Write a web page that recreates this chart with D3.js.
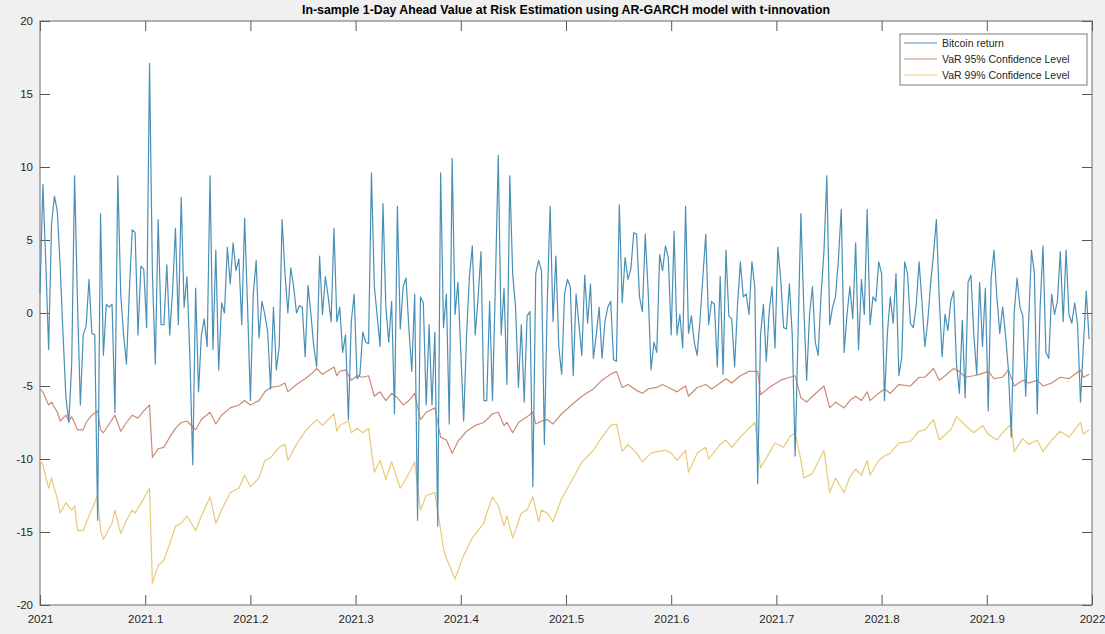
<!DOCTYPE html>
<html>
<head>
<meta charset="utf-8">
<script src="https://cdn.jsdelivr.net/npm/d3@7"></script>
<style>
  body { margin: 0; background: #f0f0f0; }
  svg { display: block; font-family: "Liberation Sans", Arial, sans-serif; }
</style>
</head>
<body>
<svg id="chart" width="1105" height="634"></svg>
<script>
// daily bitcoin returns (%), day 0 = 2021-01-01
const returns = [
  1.3, 8.8, 3.5, -2.5, 6.1, 8.0, 7.0, 3.2, -1.5, -5.8,
  -7.5, -3.5, 9.4, 0.8, -6.3, -1.5, -0.9, 2.3, -1.4, -1.5,
  -14.2, 6.8, -2.9, 0.6, 0.4, 0.6, -6.8, 9.4, 1.3, -1.5,
  -3.5, 1.5, 5.7, 5.5, -1.5, 3.2, 3.0, -1.0, 17.1, 2.7,
  -3.5, 6.4, -0.8, -0.8, 3.3, -1.5, 1.5, 5.8, -0.8, 7.9,
  0.4, 2.5, -3.0, -10.4, 1.7, -5.4, -1.5, -0.4, -2.3, 9.4,
  -2.5, 4.3, -3.9, 0.7, 0.0, 4.5, 2.0, 4.8, 2.9, 3.7,
  -0.8, 6.5, 0.5, -6.0, 1.3, 3.6, -1.7, 0.8, -0.1, -1.3,
  -5.2, 0.4, -3.9, -2.3, 6.4, 2.7, 0.0, 3.1, 1.8, 0.0,
  0.5, 0.4, -3.0, 1.9, -0.1, -2.3, -3.7, 3.9, -0.1, 2.5,
  1.1, -0.6, 5.8, -0.6, 0.4, -2.7, -1.5, -7.3, -0.6, 1.3,
  -4.5, -4.2, -1.3, -2.0, -2.1, 9.6, 1.8, -0.2, -2.3, 7.5,
  0.4, -2.0, 0.8, -6.9, 7.3, -1.1, 1.8, 2.4, -1.1, -4.0,
  1.3, -14.2, 1.1, 0.7, -6.3, -0.8, -6.3, -1.3, -14.6, 9.6,
  -1.0, 1.3, -7.6, 10.6, -0.1, 2.1, -2.7, -7.4, -1.5, 2.5,
  4.6, -1.5, 1.0, 4.2, -6.0, -6.0, 0.8, -6.0, 2.0, 10.8,
  -1.5, 1.7, -4.9, 9.4, 2.7, 0.4, -5.1, -0.8, -6.1, -0.2,
  0.1, -11.9, 2.7, 3.6, 2.9, -9.0, 0.8, 7.3, -0.6, 3.9,
  -2.3, -4.2, 1.3, 2.3, 1.8, -4.3, 1.3, -0.8, -2.9, 2.6,
  -0.7, 2.0, -3.1, -1.5, 0.4, -3.1, -0.6, 0.4, 0.8, -3.2,
  -3.3, 7.4, 0.7, 3.8, 2.3, 3.0, 5.5, 5.4, 1.1, 0.1,
  5.4, 1.5, -3.9, -2.0, -2.7, 4.0, 2.9, 4.6, 3.8, -1.5,
  5.6, -1.5, -0.1, -2.4, 7.3, -1.4, -0.2, -2.0, -2.9, -0.5,
  2.5, 5.4, -0.8, 0.8, 0.6, -3.7, 2.5, -4.2, 4.3, -0.2,
  -0.4, -3.7, 0.5, 3.5, 1.1, 1.3, -0.1, 3.5, 1.8, -11.7,
  -1.5, 0.6, -3.3, 0.1, 1.8, -2.4, 4.5, 2.3, -1.0, -1.1,
  2.0, -1.5, -9.8, -1.5, 6.8, 0.4, -4.6, -0.1, 1.8, -2.0,
  -2.9, 1.3, 4.2, 9.4, -0.8, 0.4, 1.1, 3.6, 7.1, -2.7,
  -0.1, 1.8, -0.4, 4.8, -2.5, 2.3, -0.1, 7.1, -0.8, 1.1,
  0.8, 3.5, 2.7, -6.0, -1.4, 1.1, -0.7, 2.7, -4.3, -3.0,
  3.5, 2.7, -0.7, -1.0, 0.5, 3.5, 0.8, -2.3, -0.6, 2.0,
  4.0, 6.4, 1.0, -3.0, -0.1, -1.2, 0.8, 1.5, -3.5, -5.5,
  -0.5, -5.8, 2.1, 2.6, -1.5, -4.2, 2.1, -2.3, 1.7, -6.7,
  2.4, 4.3, 1.1, -1.4, 0.4, -1.5, -3.9, -8.5, 0.0, 2.4,
  0.4, -0.2, -5.7, -0.7, 4.3, 2.7, -6.9, 0.4, 4.6, -2.7,
  -3.1, 1.3, -0.1, 0.8, 4.2, -0.6, 4.3, -0.1, -0.7, 0.7,
  -0.8, -6.1, -2.3, 1.5, -1.8
];

const var95Days = [0, 1, 3, 4, 6, 7, 9, 10, 11, 13, 15, 16, 18, 20, 21, 22, 24, 26, 28, 30,
  32, 34, 36, 38, 39, 41, 43, 45, 47, 49, 51, 54, 56, 59, 61, 63, 66, 69, 71, 73,
  76, 78, 80, 83, 85, 86, 89, 92, 94, 96, 98, 102, 103, 104, 106, 108, 110, 112, 114, 116,
  118, 120, 122, 124, 126, 128, 130, 132, 134, 137, 139, 141, 143, 145, 148, 151, 154, 155, 157, 159,
  161, 162, 164, 166, 169, 171, 172, 174, 176, 178, 181, 185, 188, 192, 195, 198, 200, 202, 204, 207,
  209, 211, 214, 216, 218, 221, 224, 225, 228, 231, 233, 236, 238, 240, 243, 246, 249, 250, 253, 257,
  260, 262, 264, 266, 268, 272, 274, 276, 279, 281, 283, 285, 287, 288, 291, 293, 295, 298, 302, 305,
  307, 310, 312, 314, 317, 319, 321, 324, 326, 329, 331, 334, 336, 338, 341, 343, 346, 348, 351, 354,
  357, 359, 361, 362, 364];
const var95 = [-5.2, -5.4, -6.3, -6.1, -6.8, -7.4, -7.0, -7.4, -7.1, -8.0, -8.0, -7.5, -7.0, -6.7, -8.0, -8.2, -7.6, -7.0, -8.1, -7.5,
  -7.0, -7.2, -6.7, -6.3, -9.9, -9.3, -9.2, -8.5, -7.9, -7.5, -7.4, -8.0, -7.3, -6.8, -7.6, -7.0, -6.5, -6.3, -6.0, -6.3,
  -6.0, -5.4, -5.1, -5.0, -4.8, -5.4, -4.9, -4.5, -4.2, -3.8, -4.2, -3.7, -4.3, -4.0, -3.9, -4.6, -4.3, -4.4, -4.3, -5.7,
  -5.4, -6.0, -5.5, -5.8, -6.3, -6.0, -5.5, -7.3, -6.8, -6.5, -8.5, -8.7, -9.6, -8.8, -8.1, -7.7, -7.5, -7.3, -6.9, -6.8,
  -7.7, -7.5, -8.2, -7.5, -7.1, -6.8, -7.6, -7.4, -7.3, -7.6, -6.9, -6.2, -5.7, -5.2, -4.6, -4.2, -4.0, -5.1, -4.9, -5.3,
  -5.5, -5.2, -5.1, -4.9, -5.1, -5.4, -5.0, -5.7, -5.1, -4.9, -5.2, -4.8, -4.5, -4.8, -4.3, -4.0, -4.0, -5.6, -5.1, -4.6,
  -4.4, -4.3, -5.8, -6.1, -5.7, -5.0, -6.5, -6.1, -6.5, -6.0, -5.7, -6.0, -5.4, -6.0, -5.5, -5.2, -5.5, -4.9, -5.0, -4.4,
  -4.4, -3.8, -4.6, -4.3, -3.8, -4.0, -4.4, -4.3, -4.2, -4.0, -4.5, -4.4, -3.9, -5.0, -4.6, -4.8, -4.6, -5.0, -4.8, -4.4,
  -4.5, -4.2, -3.9, -4.4, -4.2];

const var99Days = [0, 1, 3, 4, 6, 7, 9, 11, 12, 13, 15, 17, 20, 21, 22, 25, 26, 28, 30, 32,
  33, 36, 38, 39, 41, 43, 45, 47, 49, 51, 54, 56, 59, 61, 63, 66, 69, 71, 73, 76,
  78, 80, 83, 85, 86, 89, 92, 94, 96, 98, 102, 103, 104, 107, 108, 110, 112, 114, 116, 118,
  120, 122, 125, 128, 130, 132, 134, 137, 140, 141, 144, 147, 150, 154, 155, 157, 159, 161, 162, 164,
  167, 169, 171, 173, 174, 176, 178, 181, 185, 188, 192, 195, 198, 200, 202, 204, 207, 209, 212, 214,
  217, 219, 221, 224, 225, 228, 231, 232, 236, 238, 240, 243, 246, 248, 250, 253, 255, 258, 260, 262,
  264, 265, 268, 272, 274, 276, 279, 281, 283, 285, 287, 288, 291, 293, 295, 298, 302, 305, 307, 310,
  312, 316, 318, 321, 324, 327, 329, 332, 334, 337, 338, 341, 343, 346, 348, 351, 354, 357, 359, 361,
  362, 364];
const var99 = [-10.1, -10.4, -12.0, -11.3, -12.7, -13.7, -13.0, -13.5, -13.2, -14.9, -14.9, -13.9, -12.5, -14.9, -15.5, -14.4, -13.5, -15.1, -14.2, -13.5,
  -13.7, -12.7, -12.0, -18.5, -17.3, -16.9, -15.8, -14.6, -14.4, -13.9, -14.9, -13.9, -12.6, -14.4, -13.5, -12.3, -12.0, -11.1, -11.9, -11.3,
  -10.1, -9.9, -9.2, -9.0, -10.1, -9.0, -8.1, -7.7, -7.3, -7.7, -6.9, -8.1, -7.7, -7.4, -8.2, -7.9, -8.2, -7.9, -10.9, -10.1,
  -11.4, -10.2, -12.0, -11.0, -10.2, -13.5, -12.5, -12.3, -16.1, -16.8, -18.2, -16.6, -15.4, -14.4, -13.7, -12.6, -13.2, -14.6, -13.9, -15.4,
  -13.7, -13.5, -12.6, -14.3, -13.5, -13.7, -14.3, -12.7, -11.3, -10.2, -9.4, -8.5, -7.7, -7.6, -9.5, -9.0, -9.6, -10.2, -9.6, -9.5,
  -9.4, -9.6, -10.1, -9.4, -10.9, -9.6, -9.2, -10.0, -9.0, -8.7, -9.2, -8.5, -7.9, -7.5, -10.6, -9.6, -8.9, -9.2, -8.5, -8.2,
  -10.1, -11.3, -11.0, -9.4, -12.3, -11.3, -12.3, -11.2, -10.7, -11.1, -10.1, -11.1, -10.1, -9.8, -9.6, -8.9, -8.8, -8.1, -8.0, -7.3,
  -8.7, -8.0, -7.1, -7.7, -8.2, -7.7, -8.3, -8.7, -8.2, -7.6, -9.5, -8.6, -9.0, -8.7, -9.5, -8.7, -8.1, -8.5, -8.0, -7.5,
  -8.3, -8.0];

const xTicks = [2021, 2021.1, 2021.2, 2021.3, 2021.4, 2021.5, 2021.6, 2021.7, 2021.8, 2021.9, 2022];
const xTickLabels = ["2021", "2021.1", "2021.2", "2021.3", "2021.4", "2021.5", "2021.6", "2021.7", "2021.8", "2021.9", "2022"];
const yTicks = [-20, -15, -10, -5, 0, 5, 10, 15, 20];
const yTickLabels = ["-20", "-15", "-10", "-5", "0", "5", "10", "15", "20"];
const seriesNames = ["Bitcoin return", "VaR 95% Confidence Level", "VaR 99% Confidence Level"];
const seriesColors = ["#4a8fb6", "#cc8b73", "#e8c978"];

const svg = d3.select("#chart");
const plotLeft = 40, plotRight = 1092, plotTop = 21, plotBottom = 605;
const tick = 10;

const x = d3.scaleLinear().domain([2021, 2022]).range([plotLeft, plotRight]);
const y = d3.scaleLinear().domain([-20, 20]).range([plotBottom, plotTop]);
const dayToYear = d => 2021 + d / 365;

svg.append("rect")
  .attr("x", plotLeft).attr("y", plotTop)
  .attr("width", plotRight - plotLeft).attr("height", plotBottom - plotTop)
  .attr("fill", "#fff");

// axes, ticks pointing inward on all four sides
const styleAxis = g => {
  g.select(".domain").remove();
  g.selectAll(".tick line").attr("stroke", "#555");
  g.selectAll(".tick text").attr("fill", "#262626").style("font-size", "11.5px");
};

svg.append("g")
  .attr("transform", `translate(0,${plotBottom})`)
  .call(d3.axisBottom(x).tickValues(xTicks).tickSizeInner(-tick).tickSizeOuter(0).tickPadding(10)
    .tickFormat((d, i) => xTickLabels[i]))
  .call(styleAxis);

svg.append("g")
  .attr("transform", `translate(0,${plotTop})`)
  .call(d3.axisTop(x).tickValues(xTicks).tickSizeInner(-tick).tickSizeOuter(0).tickFormat(""))
  .call(styleAxis);

svg.append("g")
  .attr("transform", `translate(${plotLeft},0)`)
  .call(d3.axisLeft(y).tickValues(yTicks).tickSizeInner(-tick).tickSizeOuter(0).tickPadding(7)
    .tickFormat((d, i) => yTickLabels[i]))
  .call(styleAxis);

svg.append("g")
  .attr("transform", `translate(${plotRight},0)`)
  .call(d3.axisRight(y).tickValues(yTicks).tickSizeInner(-tick).tickSizeOuter(0).tickFormat(""))
  .call(styleAxis);

svg.append("rect")
  .attr("x", plotLeft).attr("y", plotTop)
  .attr("width", plotRight - plotLeft).attr("height", plotBottom - plotTop)
  .attr("fill", "none").attr("stroke", "#6b6b6b").attr("stroke-width", 1);

const line = d3.line().x(d => x(dayToYear(d[0]))).y(d => y(d[1]));

const series = [
  returns.map((v, i) => [i, v]),
  var95Days.map((d, i) => [d, var95[i]]),
  var99Days.map((d, i) => [d, var99[i]])
];

// draw yellow first, blue on top
[2, 1, 0].forEach(k => {
  svg.append("path")
    .datum(series[k])
    .attr("d", line)
    .attr("fill", "none")
    .attr("stroke", seriesColors[k])
    .attr("stroke-width", 1.2)
    .attr("stroke-linejoin", "round");
});

svg.append("text")
  .attr("x", (plotLeft + plotRight) / 2)
  .attr("y", 14)
  .attr("text-anchor", "middle")
  .style("font-size", "12.3px")
  .style("font-weight", "bold")
  .attr("fill", "#000")
  .text("In-sample 1-Day Ahead Value at Risk Estimation using AR-GARCH model with t-innovation");

const legend = svg.append("g").attr("transform", "translate(900,34)");
legend.append("rect")
  .attr("width", 187).attr("height", 51)
  .attr("fill", "#fff").attr("stroke", "#7a7a7a");

seriesNames.forEach((name, i) => {
  legend.append("line")
    .attr("x1", 4).attr("x2", 37)
    .attr("y1", 9 + i * 16).attr("y2", 9 + i * 16)
    .attr("stroke", seriesColors[i]).attr("stroke-width", 1.2);
  legend.append("text")
    .attr("x", 42).attr("y", 9 + i * 16)
    .attr("dy", "0.35em")
    .style("font-size", "10.5px")
    .attr("fill", "#262626")
    .text(name);
});
</script>
</body>
</html>
